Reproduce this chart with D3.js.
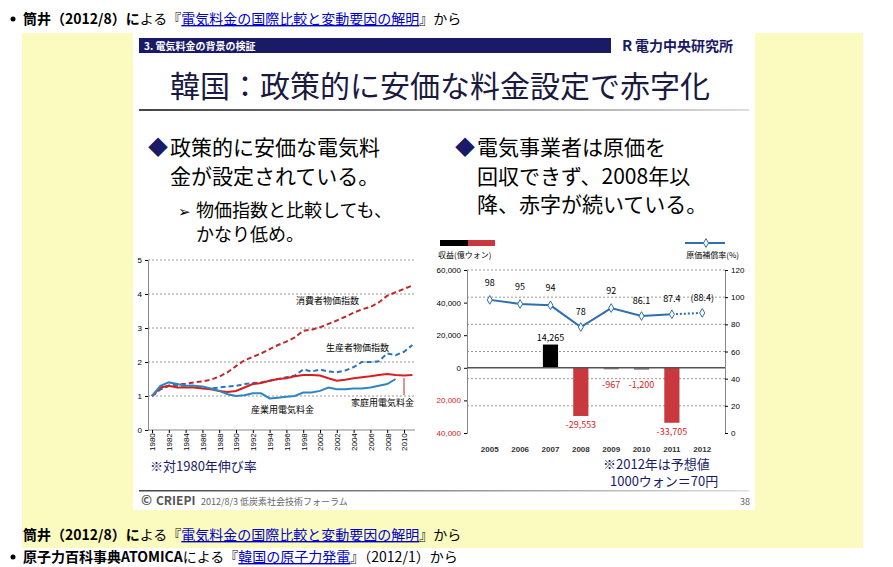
<!DOCTYPE html>
<html><head><meta charset="utf-8">
<script src="https://cdn.jsdelivr.net/npm/d3@7"></script>
<style>body{margin:0;background:#fff;font-family:"Noto Sans CJK JP",sans-serif}</style>
</head><body><svg id="c" width="893" height="567"></svg>
<script>
const years=d3.range(1980,2012);
const cpi=[1.0,1.2,1.3,1.33,1.36,1.4,1.43,1.48,1.57,1.7,1.88,2.05,2.15,2.25,2.38,2.5,2.6,2.72,2.92,2.95,3.02,3.12,3.22,3.33,3.45,3.55,3.62,3.75,3.95,4.05,4.15,4.25];
const ppi=[1.0,1.2,1.3,1.3,1.3,1.3,1.25,1.22,1.25,1.28,1.3,1.35,1.38,1.4,1.45,1.5,1.55,1.6,1.78,1.72,1.78,1.72,1.7,1.75,1.85,2.0,2.0,2.02,2.25,2.2,2.3,2.5];
const resid=[1.0,1.25,1.3,1.25,1.25,1.25,1.22,1.2,1.15,1.12,1.15,1.25,1.35,1.38,1.45,1.5,1.52,1.58,1.62,1.62,1.6,1.52,1.45,1.48,1.52,1.55,1.58,1.62,1.65,1.62,1.6,1.62];
const indus=[1.0,1.3,1.4,1.35,1.3,1.3,1.28,1.22,1.15,1.05,1.0,1.02,1.08,1.08,0.93,0.95,0.98,1.0,1.1,1.1,1.15,1.25,1.2,1.2,1.22,1.22,1.25,1.3,1.35,1.5];
const leftTicks=[0,1,2,3,4,5];
const rYears=[2005,2006,2007,2008,2009,2010,2011,2012];
const profit=[null,null,14265,-29553,-967,-1200,-33705,null];
const profitLabels=["","","14,265","-29,553","-967","-1,200","-33,705",""];
const recovery=[98,95,94,78,92,86.1,87.4,88.4];
const recLabels=["98","95","94","78","92","86.1","87.4","(88.4)"];
const profitTicks=[60000,40000,20000,0,-20000,-40000];
const profitTickLabels=["60,000","40,000","20,000","0","20,000","40,000"];
const recTicks=[0,20,40,60,80,100,120];

const svg=d3.select("#c");
const F='"Noto Sans CJK JP",sans-serif';
function t(x,y,s,o={}){return svg.append("text").attr("x",x).attr("y",y).text(s).attr("font-size",o.fs||14).attr("fill",o.fill||"#000").attr("font-weight",o.fw||"normal").attr("text-anchor",o.a||"start").attr("font-family",F);}
svg.append("circle").attr("cx",13).attr("cy",19).attr("r",2.5).attr("fill","#000");
function cite(y){
 const tx=svg.append("text").attr("x",y.x).attr("y",y.y).attr("font-size",14).attr("font-family",F);
 tx.append("tspan").text("筒井（2012/8）に").attr("font-weight","bold");
 tx.append("tspan").text("よる『");
 tx.append("tspan").text("電気料金の国際比較と変動要因の解明").attr("fill","#0000cc").attr("text-decoration","underline");
 tx.append("tspan").text("』から");
}
cite({x:23,y:24});
svg.append("rect").attr("x",22).attr("y",33).attr("width",841).attr("height",515).attr("fill","#fbfbc0");
svg.append("rect").attr("x",133).attr("y",33).attr("width",622).attr("height",477).attr("fill","#fff");
cite({x:23,y:540});
svg.append("circle").attr("cx",13).attr("cy",557).attr("r",2.5).attr("fill","#000");
{const tx=svg.append("text").attr("x",23).attr("y",562).attr("font-size",14).attr("font-family",F);
 tx.append("tspan").text("原子力百科事典ATOMICA").attr("font-weight","bold");
 tx.append("tspan").text("による『");
 tx.append("tspan").text("韓国の原子力発電").attr("fill","#0000cc").attr("text-decoration","underline");
 tx.append("tspan").text("』（2012/1）から");}
svg.append("rect").attr("x",139).attr("y",38).attr("width",472).attr("height",15).attr("fill","#1a1a66");
t(144,50,"3. 電気料金の背景の検証",{fs:10,fill:"#fff",fw:"bold"});
t(622,51,"R",{fs:15,fill:"#1a1a66",fw:"bold"});
t(635,51,"電力中央研究所",{fs:14,fill:"#1a1a66",fw:"bold"});
t(440,97,"韓国：政策的に安価な料金設定で赤字化",{fs:30,fill:"#1a1a40",a:"middle"});
const g=svg.append("defs").append("linearGradient").attr("id","gl");
g.append("stop").attr("offset","0").attr("stop-color","#444");g.append("stop").attr("offset","1").attr("stop-color","#ddd");
svg.append("rect").attr("x",139).attr("y",109).attr("width",610).attr("height",2).attr("fill","url(#gl)");
svg.append("rect").attr("x",139).attr("y",490).attr("width",610).attr("height",1.5).attr("fill","url(#gl)");
t(148,155,"◆",{fs:20,fill:"#1a1a66"});t(170,155,"政策的に安価な電気料",{fs:21});
t(170,184,"金が設定されている。",{fs:21});
t(178,217,"➢",{fs:15});t(196,217,"物価指数と比較しても、",{fs:18});
t(196,241,"かなり低め。",{fs:18});
t(455,155,"◆",{fs:20,fill:"#1a1a66"});t(477,155,"電気事業者は原価を",{fs:21});
t(477,184,"回収できず、2008年以",{fs:21});t(477,212,"降、赤字が続いている。",{fs:21});
t(141,505,"©",{fs:13,fill:"#555",fw:"bold"});t(156,505,"CRIEPI",{fs:12,fill:"#555",fw:"bold"});
t(201,505,"2012/8/3 低炭素社会技術フォーラム",{fs:9,fill:"#666"});
t(740,505,"38",{fs:9,fill:"#666"});

const x1=d3.scaleLinear().domain([1980,2010]).range([152,404]);
const y1=d3.scaleLinear().domain([0,5]).range([430,260]);
leftTicks.filter(d=>d>0).forEach(d=>svg.append("line").attr("x1",148).attr("x2",415).attr("y1",y1(d)).attr("y2",y1(d)).attr("stroke","#999").attr("stroke-dasharray","2,2"));
svg.append("g").attr("transform","translate(148,0)").call(d3.axisLeft(y1).tickValues(leftTicks).tickFormat(d3.format("d")).tickSize(3)).call(a=>{a.selectAll("text").attr("font-size",8);a.select(".domain").attr("stroke","#888");});
svg.append("g").attr("transform","translate(0,430)").call(d3.axisBottom(x1).tickValues(d3.range(1980,2011,2)).tickFormat(d3.format("d")).tickSize(3))
 .call(a=>{a.selectAll("text").attr("font-size",8).attr("transform","rotate(-90)").attr("text-anchor","end").attr("dx","-0.4em").attr("dy","-0.4em");a.select(".domain").attr("stroke","#888").attr("d","M148,0H415");});
const ln=d3.line().x((d,i)=>x1(1980+i)).y(d=>y1(d));
[[cpi,"#c0282e","5,3"],[ppi,"#2e75b6","5,3"],[resid,"#d62020",null],[indus,"#2e86c1",null]].forEach(([d,c,da])=>{
 svg.append("path").attr("d",ln(d)).attr("fill","none").attr("stroke",c).attr("stroke-width",2).attr("stroke-dasharray",da);});
t(296,304,"消費者物価指数",{fs:9});t(326,351,"生産者物価指数",{fs:9});
t(251,413,"産業用電気料金",{fs:9});t(351,406,"家庭用電気料金",{fs:9});
svg.append("line").attr("x1",404).attr("x2",404).attr("y1",395).attr("y2",378).attr("stroke","#d62020");
t(150,471,"※対1980年伸び率",{fs:13,fill:"#1a1a66"});

const xb=d3.scaleBand().domain(rYears).range([467,725]).padding(0.5);
const yL=d3.scaleLinear().domain([-40000,60000]).range([433,270]);
const yR=d3.scaleLinear().domain([0,120]).range([433,270]);
recTicks.filter(d=>d>0&&d<120).forEach(d=>svg.append("line").attr("x1",467).attr("x2",725).attr("y1",yR(d)).attr("y2",yR(d)).attr("stroke","#999").attr("stroke-dasharray","2,2"));
svg.append("line").attr("x1",467).attr("x2",725).attr("y1",270).attr("y2",270).attr("stroke","#999").attr("stroke-dasharray","2,2");
svg.append("g").attr("transform","translate(467,0)").call(d3.axisLeft(yL).tickValues(profitTicks).tickFormat((d,i)=>profitTickLabels[i]).tickSize(3))
 .call(a=>{a.selectAll("text").attr("font-size",8).attr("fill",d=>d<0?"#d62020":"#000");a.select(".domain").attr("stroke","#888");});
svg.append("g").attr("transform","translate(725,0)").call(d3.axisRight(yR).tickValues(recTicks).tickSize(3))
 .call(a=>{a.selectAll("text").attr("font-size",8);a.select(".domain").attr("stroke","#888");});
svg.append("g").attr("transform","translate(0,443)").call(d3.axisBottom(xb).tickSize(0))
 .call(a=>{a.selectAll("text").attr("font-size",8).attr("font-weight","bold").attr("fill","#333");a.select(".domain").remove();});
rYears.forEach((yr,i)=>{const v=profit[i];if(v==null)return;
 svg.append("rect").attr("x",xb(yr)).attr("width",xb.bandwidth()).attr("y",yL(Math.max(0,v))).attr("height",Math.max(1.5,Math.abs(yL(v)-yL(0))))
 .attr("fill",v>0?"#000":(v>-5000?"#888":"#c8383c"));
 t(xb(yr)+xb.bandwidth()/2,v>0?yL(v)-4:(v>-5000?yL(0)+20:yL(v)+12),profitLabels[i],{fs:9,a:"middle",fill:v>0?"#000":"#d62020"});});
svg.append("line").attr("x1",467).attr("x2",725).attr("y1",yL(0)).attr("y2",yL(0)).attr("stroke","#555").attr("stroke-width",1.5);
const cx=d=>xb(d)+xb.bandwidth()/2;
const lr=d3.line().x((d,i)=>cx(rYears[i])).y(d=>yR(d));
svg.append("path").attr("d",lr(recovery.slice(0,7))).attr("fill","none").attr("stroke","#2e6fb0").attr("stroke-width",2);
svg.append("line").attr("x1",cx(2011)).attr("x2",cx(2012)).attr("y1",yR(87.4)).attr("y2",yR(88.4)).attr("stroke","#2e6fb0").attr("stroke-width",2).attr("stroke-dasharray","2,2");
recovery.forEach((v,i)=>{const X=cx(rYears[i]),Y=yR(v);
 svg.append("path").attr("d",d3.symbol(d3.symbolDiamond,22)()).attr("transform",`translate(${X},${Y})`).attr("fill","#fff").attr("stroke","#2e6fb0");
 t(X,Y-(i==3?12:14)+(i>=5?2:0),recLabels[i],{fs:9,a:"middle"});});
svg.append("rect").attr("x",440).attr("y",240).attr("width",28).attr("height",6).attr("fill","#000");
svg.append("rect").attr("x",468).attr("y",240).attr("width",27).attr("height",6).attr("fill","#c8383c");
t(438,258,"収益(億ウォン)",{fs:8});
svg.append("line").attr("x1",685).attr("x2",725).attr("y1",243).attr("y2",243).attr("stroke","#2e6fb0").attr("stroke-width",2);
svg.append("path").attr("d",d3.symbol(d3.symbolDiamond,22)()).attr("transform","translate(706,243)").attr("fill","#fff").attr("stroke","#2e6fb0");
t(739,258,"原価補償率(%)",{fs:8,a:"end"});
t(603,469,"※2012年は予想値",{fs:13,fill:"#1a1a66"});
t(610,486,"1000ウォン＝70円",{fs:13,fill:"#1a1a66"});
</script></body></html>
